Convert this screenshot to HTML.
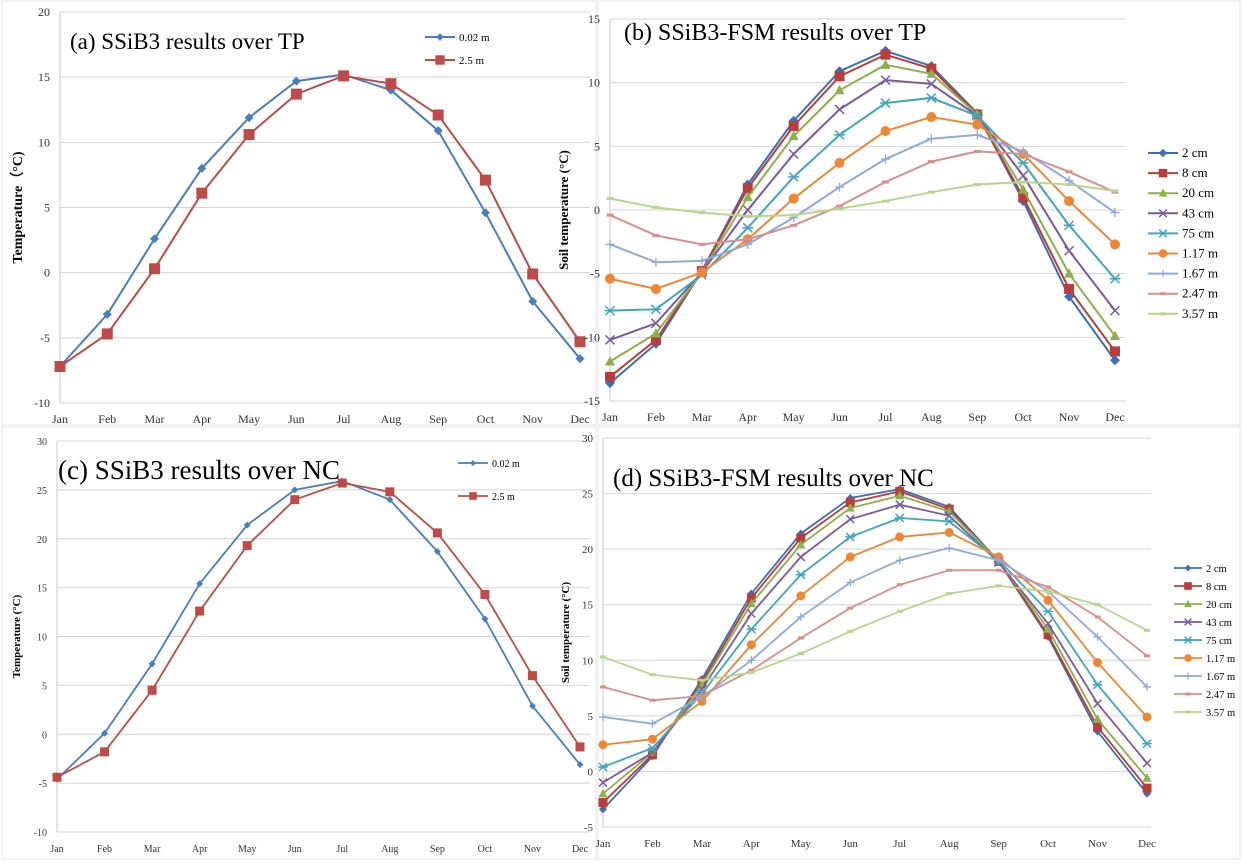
<!DOCTYPE html>
<html><head><meta charset="utf-8"><style>
body{margin:0;background:#fff;width:1242px;height:861px;overflow:hidden}
svg text{font-family:"Liberation Serif",serif}
</style></head><body>
<svg id="chart" width="1242" height="861" xmlns="http://www.w3.org/2000/svg"></svg>
<script>
const months=["Jan","Feb","Mar","Apr","May","Jun","Jul","Aug","Sep","Oct","Nov","Dec"];
const aLabels=["0.02 m","2.5 m"];
const a002=[-7.2,-3.2,2.6,8.0,11.9,14.7,15.2,14.0,10.9,4.6,-2.2,-6.6];
const a25=[-7.2,-4.7,0.3,6.1,10.6,13.7,15.1,14.5,12.1,7.1,-0.1,-5.3];
const c002=[-4.6,0.1,7.2,15.4,21.4,25.0,25.9,24.0,18.7,11.8,2.9,-3.1];
const c25=[-4.4,-1.8,4.5,12.6,19.3,24.0,25.7,24.8,20.6,14.3,6.0,-1.3];
const depthLabels=["2 cm","8 cm","20 cm","43 cm","75 cm","1.17 m","1.67 m","2.47 m","3.57 m"];
const b2=[-13.6,-10.5,-4.8,2.0,7.0,10.9,12.5,11.3,7.6,0.7,-6.8,-11.8];
const b8=[-13.1,-10.2,-4.8,1.7,6.6,10.5,12.2,11.1,7.5,1.0,-6.2,-11.1];
const b20=[-11.9,-9.7,-4.9,1.0,5.8,9.4,11.4,10.7,7.5,1.6,-5.0,-9.9];
const b43=[-10.2,-8.9,-4.9,0.0,4.4,7.9,10.2,9.9,7.4,2.7,-3.2,-7.9];
const b75=[-7.9,-7.8,-5.1,-1.4,2.6,5.9,8.4,8.8,7.4,3.7,-1.2,-5.4];
const b117=[-5.4,-6.2,-4.9,-2.3,0.9,3.7,6.2,7.3,6.7,4.4,0.7,-2.7];
const b167=[-2.7,-4.1,-4.0,-2.7,-0.6,1.8,4.0,5.6,5.9,4.6,2.3,-0.2];
const b247=[-0.4,-2.0,-2.7,-2.3,-1.2,0.3,2.2,3.8,4.6,4.4,3.0,1.4];
const b357=[0.9,0.2,-0.2,-0.5,-0.4,0.1,0.7,1.4,2.0,2.2,2.0,1.5];
const d2=[-3.4,1.35,8.3,16.0,21.4,24.6,25.4,23.8,18.9,12.1,3.6,-2.0];
const d8=[-2.8,1.5,8.0,15.6,21.0,24.2,25.2,23.6,18.9,12.3,4.0,-1.5];
const d20=[-2.0,1.7,7.8,15.1,20.4,23.7,24.8,23.4,18.9,12.8,4.7,-0.6];
const d43=[-1.0,1.7,7.4,14.2,19.3,22.7,24.0,23.0,18.8,13.3,6.1,0.75];
const d75=[0.4,2.1,7.0,12.8,17.7,21.1,22.8,22.5,19.0,14.4,7.8,2.5];
const d117=[2.4,2.9,6.3,11.4,15.8,19.3,21.1,21.5,19.3,15.4,9.8,4.9];
const d167=[4.9,4.3,6.7,10.0,13.9,17.0,19.0,20.1,19.0,16.2,12.1,7.6];
const d247=[7.6,6.4,6.8,9.1,12.0,14.7,16.8,18.1,18.1,16.6,13.9,10.4];
const d357=[10.3,8.7,8.2,8.9,10.6,12.6,14.4,16.0,16.7,16.2,15.0,12.7];
const aTicks=[20,15,10,5,0,-5,-10];
const bTicks=[15,10,5,0,-5,-10,-15];
const cTicks=[30,25,20,15,10,5,0,-5,-10];
const dTicks=[30,25,20,15,10,5,0,-5];

const svg=document.getElementById('chart');
const NS="http://www.w3.org/2000/svg";
function el(tag,attrs,parent){const e=document.createElementNS(NS,tag);for(const k in attrs)e.setAttribute(k,attrs[k]);(parent||svg).appendChild(e);return e;}
const depthColors=["#3d6fb6","#b83d3b","#8db04a","#7a5a9e","#3fa6c0","#ef8633","#8eaadb","#d98e8c","#b9d58c"];
const depthMarkers=["diamond","square","triangle","x","star","circle","plus","dash","dash"];

function marker(g,type,x,y,s,c){
  let m;
  if(type==="diamond")m=el('polygon',{points:`${x},${y-s} ${x+s},${y} ${x},${y+s} ${x-s},${y}`,fill:c},g);
  else if(type==="square")m=el('rect',{x:x-s,y:y-s,width:2*s,height:2*s,fill:c},g);
  else if(type==="triangle")m=el('polygon',{points:`${x},${y-s*1.1} ${x+s},${y+s*0.8} ${x-s},${y+s*0.8}`,fill:c},g);
  else if(type==="circle")m=el('circle',{cx:x,cy:y,r:s,fill:c},g);
  else if(type==="x")m=el('path',{d:`M${x-s} ${y-s}L${x+s} ${y+s}M${x-s} ${y+s}L${x+s} ${y-s}`,stroke:c,'stroke-width':1.5},g);
  else if(type==="star")m=el('path',{d:`M${x-s} ${y-s}L${x+s} ${y+s}M${x-s} ${y+s}L${x+s} ${y-s}M${x-s*1.2} ${y}L${x+s*1.2} ${y}`,stroke:c,'stroke-width':1.5},g);
  else if(type==="plus")m=el('path',{d:`M${x} ${y-s}L${x} ${y+s}M${x-s} ${y}L${x+s} ${y}`,stroke:c,'stroke-width':1.3},g);
  else m=el('path',{d:`M${x-s} ${y}L${x+s} ${y}`,stroke:c,'stroke-width':3},g);
  
  
}

function panel(o){
  const g=el('g',{});
  
  
  const ymin=o.ticks[o.ticks.length-1],ymax=o.ticks[0];
  const Y=v=>o.y0+(ymax-v)/(ymax-ymin)*(o.y1-o.y0);
  const X=i=>o.x0+i*(o.x1-o.x0)/11;
  o.ticks.forEach(t=>{
    const l=el('line',{x1:o.x0,x2:o.x1+o.gx,y1:Y(t),y2:Y(t),stroke:"#d4d4d4",'stroke-width':1},g);
    
    
    const tx=el('text',{x:o.x0-10,y:Y(t)+4,'text-anchor':'end','font-size':o.tf,fill:"#333"},g);
    tx.textContent=t;
    
    
  });
  const ax=el('line',{x1:o.x0,x2:o.x0,y1:o.y0,y2:o.y1,stroke:"#c8c8c8"},g);
  
  
  months.forEach((m,i)=>{
    const tx=el('text',{x:X(i),y:o.y1+20,'text-anchor':'middle','font-size':o.tf,fill:"#333"},g);
    tx.textContent=m;
    
    
  });
  const yt=el('text',{x:o.ytx,y:(o.y0+o.y1)/2,'text-anchor':'middle','font-size':o.ytf,'font-weight':'bold',transform:`rotate(-90 ${o.ytx} ${(o.y0+o.y1)/2})`},g);
  yt.textContent=o.ytitle;
  
  
  const tt=el('text',{x:o.titx,y:o.tity,'font-size':o.titf},g);
  tt.textContent=o.title;
  
  
  o.series.forEach((s,k)=>{
    const sg=el('g',{},g);
    
    
    const p=el('polyline',{points:s.map((v,i)=>X(i)+','+Y(v)).join(' '),fill:'none',stroke:o.colors[k],'stroke-width':o.lw},sg);
    
    
    s.forEach((v,i)=>marker(sg,o.markers[k],X(i),Y(v),o.ms[k]||o.ms[0],o.colors[k]));
    const ly=o.ly+k*o.ld;
    const lg=el('g',{},g);
    
    
    el('line',{x1:o.lx,x2:o.lx+o.ll,y1:ly,y2:ly,stroke:o.colors[k],'stroke-width':o.lw},lg);
    marker(lg,o.markers[k],o.lx+o.ll/2,ly,(o.ms[k]||o.ms[0])*0.85,o.colors[k]);
    const lt=el('text',{x:o.lx+o.ll+4,y:ly+4,'font-size':o.lf},lg);
    lt.textContent=o.labels[k];
  });
}
[[2,1,594,424],[598,1,642,424],[2,427,594,432],[598,427,642,432]].forEach(r=>{
  const b=el('rect',{x:r[0],y:r[1],width:r[2],height:r[3],fill:'none',stroke:'#e4e4e4'});
  
  
});
panel({name:'panel-a',x0:60,x1:580,gx:10,y0:12,y1:403,ticks:aTicks,tf:12,ytx:22,ytf:14,ytitle:'Temperature（°C)',title:'(a)  SSiB3 results over TP',titx:70,tity:49,titf:23,
 series:[a002,a25],labels:aLabels,colors:["#4a7ebb","#be4b48"],markers:["diamond","square"],ms:[4.5,5.5],lw:2,lx:425,ly:37,ld:23,ll:30,lf:11});
panel({name:'panel-b',x0:610,x1:1115,gx:10,y0:19,y1:401,ticks:bTicks,tf:12,ytx:568,ytf:13,ytitle:'Soil temperature (°C)',title:'(b)  SSiB3-FSM results over TP',titx:624,tity:40,titf:24,
 series:[b2,b8,b20,b43,b75,b117,b167,b247,b357],labels:depthLabels,colors:depthColors,markers:depthMarkers,ms:[5,5,5,4.5,4.5,5,4.5,3.5,3.5],lw:2,lx:1148,ly:153,ld:20.1,ll:30,lf:13});
panel({name:'panel-c',x0:57,x1:580,gx:10,y0:441,y1:832,ticks:cTicks,tf:10,ytx:20,ytf:11,ytitle:'Temperature (°C)',title:'(c) SSiB3 results over NC',titx:58,tity:479,titf:27,
 series:[c002,c25],labels:aLabels,colors:["#4a7ebb","#be4b48"],markers:["diamond","square"],ms:[3.5,4.5],lw:1.8,lx:458,ly:463,ld:33,ll:30,lf:10});
panel({name:'panel-d',x0:603,x1:1147,gx:4,y0:438,y1:827,ticks:dTicks,tf:11,ytx:569,ytf:11,ytitle:'Soil temperature (°C)',title:'(d)  SSiB3-FSM results over NC',titx:613,tity:486,titf:25,
 series:[d2,d8,d20,d43,d75,d117,d167,d247,d357],labels:depthLabels,colors:depthColors,markers:depthMarkers,ms:[4,4.5,4.5,4,4,4.5,4,3,3],lw:1.8,lx:1174,ly:568,ld:18,ll:28,lf:10.5});
</script>
</body></html>
